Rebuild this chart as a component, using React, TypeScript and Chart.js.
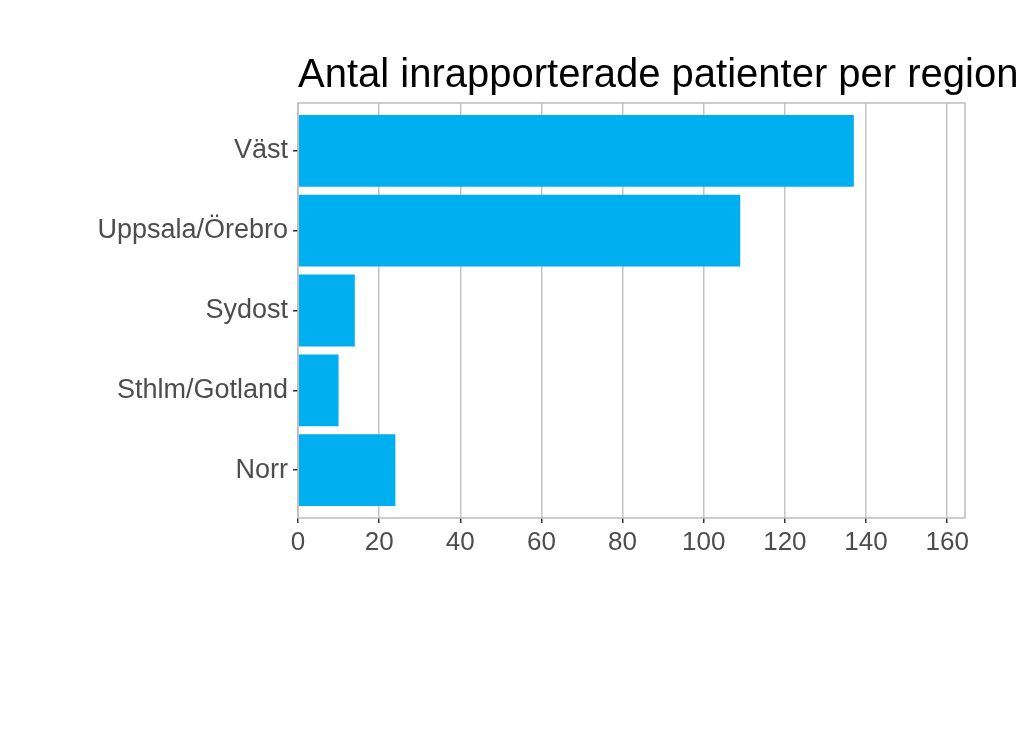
import React, { useEffect, useRef } from "react";
import { Chart, registerables } from "chart.js";

Chart.register(...registerables);

const titleText = "Antal inrapporterade patienter per region";
const categories = ["Väst", "Uppsala/Örebro", "Sydost", "Sthlm/Gotland", "Norr"];
const values = [137, 109, 14, 10, 24];
const xTicks = [0, 20, 40, 60, 80, 100, 120, 140, 160];

const W = 1023;
const H = 731;
const FONT = "'Liberation Sans', Arial, sans-serif";

const framePlugin = {
  id: "frame",
  afterDraw(chart: any) {
    const { ctx, chartArea } = chart;
    ctx.save();
    ctx.strokeStyle = "#bdbdbd";
    ctx.lineWidth = 1.5;
    ctx.strokeRect(chartArea.left, chartArea.top, chartArea.right - chartArea.left, chartArea.bottom - chartArea.top);
    ctx.fillStyle = "#000000";
    ctx.font = "40px " + FONT;
    ctx.textBaseline = "alphabetic";
    ctx.textAlign = "left";
    ctx.fillText(titleText, chartArea.left, 87);
    ctx.restore();
  },
};

export default function App() {
  const ref = useRef<HTMLCanvasElement>(null);
  useEffect(() => {
    if (!ref.current) return;
    const data = categories.map((c, i) => ({ x: values[i], y: i + 1 }));
    const chart = new Chart(ref.current, {
      type: "bar",
      data: {
        datasets: [
          {
            label: "Antal",
            data,
            backgroundColor: "#00AFF0",
            borderWidth: 0,
            categoryPercentage: 1,
            barPercentage: 0.9,
          },
        ],
      },
      options: {
        indexAxis: "y",
        responsive: false,
        animation: false,
        layout: { padding: { top: 103, right: 58, bottom: 0, left: 0 } },
        plugins: { legend: { display: false }, tooltip: { enabled: false }, title: { display: false } },
        scales: {
          x: {
            type: "linear",
            min: 0,
            max: 164.4,
            offset: false,
            afterBuildTicks(scale: any) {
              scale.ticks = xTicks.map((v) => ({ value: v }));
            },
            afterFit(scale: any) {
              scale.height = H - 518;
            },
            grid: { color: "#c4c4c4", lineWidth: 1.5, tickColor: "#333333", tickLength: 5, drawOnChartArea: true, offset: false },
            border: { display: false },
            ticks: {
              color: "#4d4d4d",
              font: { family: FONT, size: 26 },
              padding: 4,
              maxRotation: 0,
              autoSkip: false,
            },
          },
          y: {
            type: "linear",
            reverse: true,
            min: 0.4,
            max: 5.6,
            offset: false,
            afterBuildTicks(scale: any) {
              scale.ticks = categories.map((c, i) => ({ value: i + 1 }));
            },
            afterFit(scale: any) {
              scale.width = 298;
            },
            grid: { drawOnChartArea: false, tickColor: "#333333", tickLength: 5, lineWidth: 1.5, offset: false },
            border: { display: false },
            ticks: {
              color: "#4d4d4d",
              font: { family: FONT, size: 27 },
              padding: 5,
              autoSkip: false,
              callback: (v: any) => categories[Number(v) - 1] ?? "",
            },
          },
        },
      },
      plugins: [framePlugin],
    } as any);
    return () => chart.destroy();
  }, []);
  return (
    <div style={{ position: "fixed", left: 0, top: 0, width: W, height: H, background: "#fff" }}>
      <canvas ref={ref} width={W} height={H} />
    </div>
  );
}
